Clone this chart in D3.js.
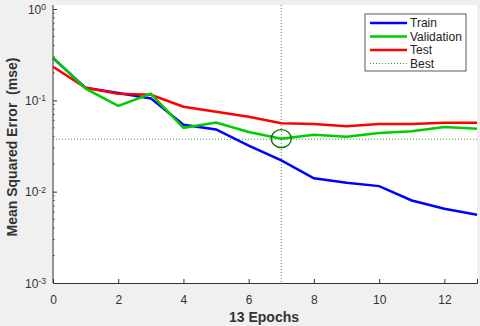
<!DOCTYPE html>
<html>
<head>
<meta charset="utf-8">
<script src="https://cdn.jsdelivr.net/npm/d3@7"></script>
<style>
  body { margin: 0; background: #f0f0f0; }
  svg { display: block; font-family: "Liberation Sans", Arial, sans-serif; }
</style>
</head>
<body>
<svg id="chart" width="480" height="326" viewBox="0 0 480 326"></svg>
<script>
// performance per epoch (mse)
const epochs = [0,1,2,3,4,5,6,7,8,9,10,11,12,13]
const train = [0.29,0.137,0.12,0.105,0.054,0.048,0.032,0.022,0.014,0.0125,0.0115,0.008,0.0065,0.0056]
const validation = [0.295,0.134,0.087,0.118,0.05,0.057,0.045,0.038,0.042,0.040,0.044,0.046,0.051,0.049]
const test = [0.233,0.137,0.118,0.115,0.085,0.075,0.066,0.056,0.055,0.052,0.055,0.055,0.057,0.057]
const bestEpoch = 7
const bestValue = 0.0375
const xTicks = [0,2,4,6,8,10,12]
const yTicks = [1e-3,1e-2,1e-1,1]
const yTickExp = ["-3","-2","-1","0"]

let svg = d3.select("#chart")
let mLeft = 53, mRight = 477, mTop = 9, mBottom = 283

let x = d3.scaleLinear().domain([0,13]).range([mLeft,mRight])
let y = d3.scaleLog().domain([1e-3,1]).range([mBottom,mTop])

// plot background
svg.append("rect")
    .attr("x", mLeft).attr("y", 5)
    .attr("width", mRight-mLeft).attr("height", mBottom-5)
    .attr("fill", "white")

// x axis
let xAxis = svg.append("g")
    .attr("transform", `translate(0,${mBottom})`)
    .call(d3.axisBottom(x).tickValues(xTicks).tickSize(-4).tickPadding(12))
xAxis.select(".domain").attr("stroke", "#333")
xAxis.selectAll(".tick line").attr("stroke", "#333")
xAxis.selectAll("text").attr("font-size", 12).attr("fill", "#333")

// y axis (labels with superscripts drawn by hand)
let yAxis = svg.append("g")
    .attr("transform", `translate(${mLeft},0)`)
    .call(d3.axisLeft(y).tickValues(yTicks).tickSize(-4).tickFormat(""))
yAxis.select(".domain").attr("stroke", "#333").attr("d", `M-0,5V${mBottom}`)
yAxis.selectAll(".tick line").attr("stroke", "#333")
yAxis.selectAll(".tick").each(function (d, i) {
    let t = d3.select(this).append("text")
        .attr("x", -7).attr("dy", "0.35em")
        .attr("text-anchor", "end")
        .attr("fill", "#333")
        .attr("font-size", 12)
    t.append("tspan").text("10")
    t.append("tspan").attr("dy", "-0.45em").attr("font-size", 8.5).text(yTickExp[i])
})
// minor log ticks
let minor = []
for (let dec of [1e-3,1e-2,1e-1]) for (let k=2;k<10;k++) minor.push(dec*k)
svg.append("g").selectAll("line").data(minor).enter().append("line")
    .attr("x1", mLeft).attr("x2", mLeft+2)
    .attr("y1", d=>y(d)).attr("y2", d=>y(d))
    .attr("stroke", "#333").attr("stroke-width", 0.6)

// best lines
let best = svg.append("g")
best.append("line")
    .attr("x1", mLeft).attr("x2", mRight)
    .attr("y1", y(bestValue)).attr("y2", y(bestValue))
    .attr("stroke", "#2ca02c").attr("stroke-dasharray", "1,2")
best.append("line")
    .attr("x1", x(bestEpoch)).attr("x2", x(bestEpoch))
    .attr("y1", 5).attr("y2", mBottom)
    .attr("stroke", "#2ca02c").attr("stroke-dasharray", "1,2")

let line = d3.line().x((d,i)=>x(epochs[i])).y(d=>y(d))
let series = [
    {name:"Train", values:train, color:"#0000ff"},
    {name:"Validation", values:validation, color:"#00cc00"},
    {name:"Test", values:test, color:"#ff0000"}
]
// draw order: train, test, validation on top near start
svg.append("g").selectAll("path").data([series[0], series[2], series[1]]).enter().append("path")
    .attr("d", d=>line(d.values))
    .attr("fill", "none")
    .attr("stroke", d=>d.color)
    .attr("stroke-width", 2.5)

// best circle
svg.append("ellipse")
    .attr("cx", x(bestEpoch)).attr("cy", y(validation[bestEpoch]))
    .attr("rx", 10).attr("ry", 9)
    .attr("fill", "none").attr("stroke", "#0a6e0a").attr("stroke-width", 1.3)

// legend
let legend = svg.append("g").attr("transform", "translate(365,14)")
legend.append("rect").attr("width", 101).attr("height", 57)
    .attr("fill", "white").attr("stroke", "#333").attr("stroke-width", 0.8)
let items = series.concat([{name:"Best", color:"#2ca02c", dash:true}])
items.forEach(function (d, i) {
    let yy = 9 + i*13.5
    legend.append("line")
        .attr("x1", 5).attr("x2", 42).attr("y1", yy).attr("y2", yy)
        .attr("stroke", d.color)
        .attr("stroke-width", d.dash ? 1 : 2.5)
        .attr("stroke-dasharray", d.dash ? "1,2" : null)
    legend.append("text")
        .attr("x", 45).attr("y", yy).attr("dy", "0.35em")
        .attr("font-size", 12).attr("fill", "#222")
        .text(d.name)
})

// axis titles
svg.append("text")
    .attr("x", 264).attr("y", 322)
    .attr("text-anchor", "middle")
    .attr("font-size", 14).attr("font-weight", "bold").attr("fill", "#333")
    .text("13 Epochs")
svg.append("text")
    .attr("transform", `translate(17,147) rotate(-90)`)
    .attr("text-anchor", "middle")
    .attr("font-size", 14).attr("font-weight", "bold").attr("fill", "#333")
    .attr("xml:space", "preserve")
    .text("Mean Squared Error  (mse)")
</script>
</body>
</html>
